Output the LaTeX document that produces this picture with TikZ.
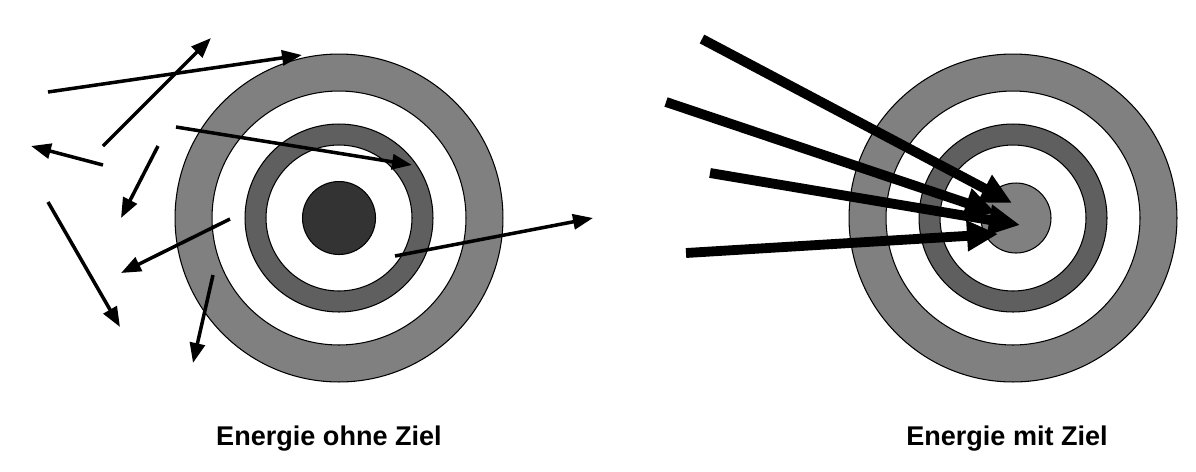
\documentclass[tikz,border=0pt]{standalone}
\usepackage{fontspec}
\setmainfont{Liberation Sans}
\usepackage{xcolor}
\usetikzlibrary{arrows.meta, calc}
\definecolor{RingGray}  {HTML}{808080}
\definecolor{RingDark}  {HTML}{5F5F5F}
\definecolor{BullDark}  {HTML}{333333}
\tikzset{
  ring/.style={draw=black, line width=0.6pt},
  shot/.style={
    -{Triangle[length=0.4cm, width=0.3cm]}, line width=2pt,
  },
  hit/.style={
    -{Triangle[length=0.62cm, width=0.58cm]}, line width=5.6pt,
  },
  caption/.style={font=\fontsize{15.4}{17}\selectfont\bfseries},
}

\begin{document}
\begin{tikzpicture}[x=0.02cm, y=-0.02cm]
\useasboundingbox (0,0) rectangle (1196,471);

% ── Targets ───────────────────────────────────────────────────────────────
\coordinate (tgtL) at (339, 218);
\coordinate (tgtR) at (1013, 218);
\foreach \r/\c in {3.28/RingGray, 2.54/white, 1.88/RingDark, 1.46/white} {
  \draw[ring, fill=\c] (tgtL) circle[radius=\r cm];
  \draw[ring, fill=\c] (tgtR) circle[radius=\r cm];
}
\draw[ring, fill=BullDark] (tgtL) circle[radius=0.73cm];
\draw[ring, fill=RingGray] ($(tgtR)+(3,0)$) circle[radius=0.7cm];

% ── Energie ohne Ziel: scattered shots ────────────────────────────────────
\draw[shot] ( 48,  92) -- (302,  55);
\draw[shot] (103, 146) -- (211,  38);
\draw[shot] (103, 165) -- ( 31, 146);
\draw[shot] (158, 146) -- (121, 218);
\draw[shot] ( 48, 202) -- (120, 327);
\draw[shot] (176, 127) -- (412, 165);
\draw[shot] (230, 219) -- (121, 273);
\draw[shot] (213, 275) -- (193, 363);
\draw[shot] (395, 256) -- (593, 218);

% ── Energie mit Ziel: focused shots ───────────────────────────────────────
\draw[hit] (702,  39) -- (1012, 203);
\draw[hit] (666, 102) -- ( 996, 213);
\draw[hit] (710, 173) -- (1020, 225);
\draw[hit] (686, 253) -- ( 998, 234);

% ── Captions ──────────────────────────────────────────────────────────────
\node[caption] (capL) at (329, 439) {Energie ohne Ziel};
\node[caption] (capR) at (1007, 439) {Energie mit Ziel};

\end{tikzpicture}
\end{document}
